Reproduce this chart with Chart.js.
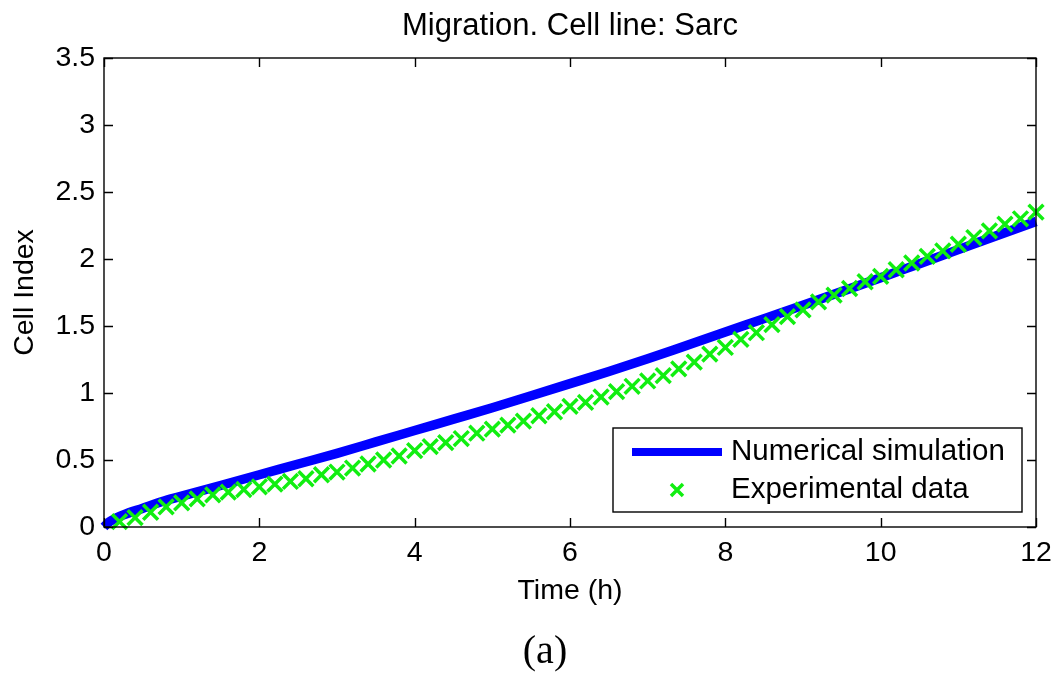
<!DOCTYPE html>
<html>
<head>
<meta charset="utf-8">
<script src="https://cdn.jsdelivr.net/npm/chart.js@4.4.1/dist/chart.umd.min.js"></script>
<style>
  html, body { margin: 0; padding: 0; background: #ffffff; }
  #wrap { width: 1058px; height: 674px; }
</style>
</head>
<body>
<div id="wrap"><canvas id="c" width="1058" height="674"></canvas></div>
<script>
// ---- data ----
const titleText = "Migration. Cell line: Sarc";
const xAxisLabel = "Time (h)";
const yAxisLabel = "Cell Index";
const captionText = "(a)";
const seriesNames = ["Numerical simulation", "Experimental data"];

const xTicks = [0, 2, 4, 6, 8, 10, 12];
const xTickLabels = ["0", "2", "4", "6", "8", "10", "12"];
const yTicks = [0, 0.5, 1, 1.5, 2, 2.5, 3, 3.5];
const yTickLabels = ["0", "0.5", "1", "1.5", "2", "2.5", "3", "3.5"];

const simTime = [0, 0.05, 0.1, 0.25, 0.5, 0.75, 1, 1.5, 2, 2.5, 3, 3.5, 4, 4.5, 5, 5.5, 6, 6.5, 7, 7.5, 8, 8.5, 9, 9.5, 10, 10.5, 11, 11.5, 12];
const simValues = [0, 0.03, 0.05, 0.09, 0.14, 0.19, 0.23, 0.31, 0.39, 0.47, 0.55, 0.635, 0.72, 0.805, 0.89, 0.98, 1.07, 1.16, 1.255, 1.355, 1.455, 1.555, 1.655, 1.757, 1.86, 1.965, 2.07, 2.175, 2.28];

const expTime = [0.2, 0.4, 0.6, 0.8, 1.0, 1.2, 1.4, 1.6, 1.8, 2.0,
                 2.2, 2.4, 2.6, 2.8, 3.0, 3.2, 3.4, 3.6, 3.8, 4.0,
                 4.2, 4.4, 4.6, 4.8, 5.0, 5.2, 5.4, 5.6, 5.8, 6.0,
                 6.2, 6.4, 6.6, 6.8, 7.0, 7.2, 7.4, 7.6, 7.8, 8.0,
                 8.2, 8.4, 8.6, 8.8, 9.0, 9.2, 9.4, 9.6, 9.8, 10.0,
                 10.2, 10.4, 10.6, 10.8, 11.0, 11.2, 11.4, 11.6, 11.8, 12.0];
const expValues = [0.04, 0.07, 0.11, 0.15, 0.18, 0.21, 0.24, 0.26, 0.28, 0.30,
                   0.32, 0.34, 0.36, 0.39, 0.41, 0.44, 0.47, 0.50, 0.53, 0.57,
                   0.60, 0.63, 0.66, 0.70, 0.73, 0.76, 0.79, 0.83, 0.86, 0.90,
                   0.93, 0.97, 1.01, 1.05, 1.09, 1.13, 1.18, 1.23, 1.29, 1.34,
                   1.40, 1.45, 1.51, 1.57, 1.62, 1.68, 1.73, 1.78, 1.83, 1.87,
                   1.92, 1.97, 2.02, 2.06, 2.11, 2.16, 2.21, 2.26, 2.30, 2.35];

// ---- styles ----
const BLUE = "#0000ff";
const GREEN = "#11ee11";
const SANS = "'Liberation Sans', Arial, Helvetica, sans-serif";
const SERIF = "'Liberation Serif', 'Times New Roman', serif";

const simData = simTime.map((t, i) => ({ x: t, y: simValues[i] }));
const expData = expTime.map((t, i) => ({ x: t, y: expValues[i] }));

// Full box with inward ticks on all four sides
const boxPlugin = {
  id: 'boxPlugin',
  afterDatasetsDraw(chart) {
    const { ctx, chartArea: a, scales } = chart;
    const xs = scales.x, ys = scales.y;
    const TL = 9;
    ctx.save();
    ctx.strokeStyle = '#000';
    ctx.lineWidth = 1.4;
    ctx.beginPath();
    xTicks.forEach(v => {
      const px = Math.round(xs.getPixelForValue(v)) + 0.5;
      ctx.moveTo(px, a.bottom); ctx.lineTo(px, a.bottom - TL);
      ctx.moveTo(px, a.top); ctx.lineTo(px, a.top + TL);
    });
    yTicks.forEach(v => {
      const py = Math.round(ys.getPixelForValue(v)) + 0.5;
      ctx.moveTo(a.left, py); ctx.lineTo(a.left + TL, py);
      ctx.moveTo(a.right, py); ctx.lineTo(a.right - TL, py);
    });
    ctx.stroke();
    ctx.strokeRect(a.left, a.top, a.right - a.left, a.bottom - a.top);
    ctx.restore();
  }
};

// Legend box inside the plot (lower right) + caption below the figure
const legendPlugin = {
  id: 'legendPlugin',
  afterDraw(chart) {
    const { ctx, chartArea: a } = chart;
    const bx = a.right - 423, by = a.bottom - 99, bw = 409, bh = 84;
    ctx.save();
    ctx.fillStyle = '#fff';
    ctx.fillRect(bx, by, bw, bh);
    ctx.strokeStyle = '#000';
    ctx.lineWidth = 1.4;
    ctx.strokeRect(bx, by, bw, bh);
    const r1 = by + 24, r2 = by + 62;
    ctx.strokeStyle = BLUE;
    ctx.lineWidth = 8;
    ctx.beginPath();
    ctx.moveTo(bx + 19, r1); ctx.lineTo(bx + 109, r1);
    ctx.stroke();
    const mx = bx + 64, s = 6;
    ctx.strokeStyle = GREEN;
    ctx.lineWidth = 3.5;
    ctx.beginPath();
    ctx.moveTo(mx - s, r2 - s); ctx.lineTo(mx + s, r2 + s);
    ctx.moveTo(mx + s, r2 - s); ctx.lineTo(mx - s, r2 + s);
    ctx.stroke();
    ctx.fillStyle = '#000';
    ctx.font = "29.5px " + SANS;
    ctx.textBaseline = 'middle';
    ctx.textAlign = 'left';
    ctx.fillText(seriesNames[0], bx + 118, r1);
    ctx.fillText(seriesNames[1], bx + 118, r2);
    // caption
    ctx.font = "40px " + SERIF;
    ctx.textAlign = 'center';
    ctx.fillText(captionText, 545, 652);
    ctx.restore();
  }
};

new Chart(document.getElementById('c'), {
  type: 'scatter',
  data: {
    datasets: [
      {
        label: seriesNames[0],
        type: 'line',
        data: simData,
        borderColor: BLUE,
        backgroundColor: BLUE,
        borderWidth: 9.5,
        pointRadius: 0,
        cubicInterpolationMode: 'monotone',
        fill: false,
        clip: false,
        order: 2
      },
      {
        label: seriesNames[1],
        data: expData,
        showLine: false,
        pointStyle: 'crossRot',
        pointRadius: 10.5,
        pointBorderWidth: 3.5,
        borderColor: GREEN,
        backgroundColor: GREEN,
        clip: false,
        order: 1
      }
    ]
  },
  options: {
    responsive: false,
    animation: false,
    devicePixelRatio: 1,
    layout: { padding: { left: 0, right: 22, top: 0, bottom: 65 } },
    plugins: {
      legend: { display: false },
      tooltip: { enabled: false },
      title: {
        display: true,
        text: titleText,
        fullSize: false,
        color: '#000',
        font: { family: SANS, size: 31, weight: 'normal', lineHeight: 1 },
        padding: { top: 11, bottom: 16 }
      }
    },
    scales: {
      x: {
        type: 'linear',
        min: 0, max: 12,
        grid: { display: false, drawTicks: false },
        border: { display: false },
        afterBuildTicks(scale) { scale.ticks = xTicks.map(v => ({ value: v })); },
        afterFit(scale) { scale.height = 82; scale.paddingLeft = 0; scale.paddingRight = 0; },
        ticks: {
          color: '#000',
          padding: 9,
          maxRotation: 0,
          font: { family: SANS, size: 28.5 },
          callback: (v, i) => xTickLabels[i]
        },
        title: {
          display: true,
          text: xAxisLabel,
          color: '#000',
          font: { family: SANS, size: 28.5, lineHeight: 1 },
          padding: { top: 0, bottom: 4 }
        }
      },
      y: {
        type: 'linear',
        min: 0, max: 3.5,
        grid: { display: false, drawTicks: false },
        border: { display: false },
        afterBuildTicks(scale) { scale.ticks = yTicks.map(v => ({ value: v })); },
        afterFit(scale) { scale.width = 104; scale.paddingTop = 0; scale.paddingBottom = 0; },
        ticks: {
          color: '#000',
          padding: 9,
          font: { family: SANS, size: 28.5 },
          callback: (v, i) => yTickLabels[i]
        },
        title: {
          display: true,
          text: yAxisLabel,
          color: '#000',
          font: { family: SANS, size: 28.5, lineHeight: 1 },
          padding: { top: 11, bottom: 0 }
        }
      }
    }
  },
  plugins: [boxPlugin, legendPlugin]
});
</script>
</body>
</html>
